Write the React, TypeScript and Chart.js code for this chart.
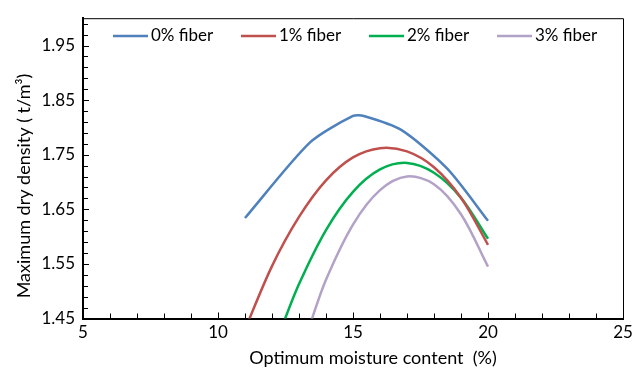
import { useEffect, useRef } from "react";
import { Chart, registerables } from "chart.js";

Chart.register(...registerables);

const FONT = "Lato, 'DejaVu Sans', sans-serif";

const seriesNames = ["0% fiber", "1% fiber", "2% fiber", "3% fiber"];
const seriesColors = ["#4F81BD", "#C0504D", "#00B050", "#B3A2C7"];

// Compaction curves: optimum moisture content (%) vs maximum dry density (t/m³)
const fiber0Moisture = [11, 13.4, 15, 15.4, 16.8, 18.5, 20];
const fiber0Density = [1.634, 1.772, 1.821, 1.821, 1.795, 1.724, 1.629];

const fiber1Moisture = [11, 12, 13, 14, 15, 16, 17, 18, 19, 20];
const fiber1Density = [1.43, 1.546, 1.636, 1.703, 1.745, 1.762, 1.756, 1.727, 1.671, 1.585];

const fiber2Moisture = [12.3, 13, 14, 15, 16, 17, 18, 19, 20];
const fiber2Density = [1.426, 1.513, 1.612, 1.682, 1.723, 1.735, 1.717, 1.671, 1.596];

const fiber3Moisture = [13.4, 14, 15, 16, 17, 18, 19, 20];
const fiber3Density = [1.438, 1.521, 1.622, 1.685, 1.71, 1.696, 1.641, 1.545];

const seriesTension = [0.25, 0.33, 0.33, 0.33];

const xTickValues = [5, 6, 7, 8, 9, 10, 11, 12, 13, 14, 15, 16, 17, 18, 19, 20, 21, 22, 23, 24, 25];
const xLabelValues = [5, 10, 15, 20, 25];

const yTickValues = [
  1.45, 1.47, 1.49, 1.51, 1.53, 1.55, 1.57, 1.59, 1.61, 1.63, 1.65, 1.67, 1.69, 1.71,
  1.73, 1.75, 1.77, 1.79, 1.81, 1.83, 1.85, 1.87, 1.89, 1.91, 1.93, 1.95, 1.97, 1.99,
];
const yLabelValues = [1.45, 1.55, 1.65, 1.75, 1.85, 1.95];

const xTitle = "Optimum moisture content  (%)";
const yTitle = "Maximum dry density ( t/m³)";

const moistureSets = [fiber0Moisture, fiber1Moisture, fiber2Moisture, fiber3Moisture];
const densitySets = [fiber0Density, fiber1Density, fiber2Density, fiber3Density];

const isLabel = (list: number[], v: number) => list.some((l) => Math.abs(l - v) < 1e-6);

// Frame, inward tick marks, legend inside the plot and axis titles
const decorations = {
  id: "decorations",
  afterDraw(chart: any) {
    const { ctx, chartArea, scales } = chart;
    const { left, right, top, bottom } = chartArea;
    ctx.save();

    ctx.strokeStyle = "#000";
    ctx.lineWidth = 1;
    ctx.beginPath();
    ctx.moveTo(left, top + 0.5);
    ctx.lineTo(right + 0.5, top + 0.5);
    ctx.lineTo(right + 0.5, bottom);
    ctx.stroke();

    ctx.beginPath();
    for (const v of yTickValues) {
      const py = Math.round(scales.y.getPixelForValue(v)) + 0.5;
      const len = isLabel(yLabelValues, v) ? 6 : 5;
      ctx.moveTo(left, py);
      ctx.lineTo(left + len, py);
    }
    for (const v of xTickValues) {
      const px = Math.round(scales.x.getPixelForValue(v)) + 0.5;
      const len = isLabel(xLabelValues, v) ? 6 : 5;
      ctx.moveTo(px, bottom);
      ctx.lineTo(px, bottom - len);
    }
    ctx.stroke();

    ctx.font = `17px ${FONT}`;
    ctx.textBaseline = "middle";
    ctx.textAlign = "left";
    chart.data.datasets.forEach((ds: any, i: number) => {
      const lx = 113 + i * 128;
      const ly = 36;
      ctx.strokeStyle = ds.borderColor;
      ctx.lineWidth = 2.5;
      ctx.beginPath();
      ctx.moveTo(lx, ly);
      ctx.lineTo(lx + 35, ly);
      ctx.stroke();
      ctx.fillStyle = "#000";
      ctx.fillText(ds.label, lx + 38, ly);
    });

    ctx.font = `18px ${FONT}`;
    ctx.textAlign = "center";
    ctx.fillText(xTitle, 373, 358);

    ctx.translate(24, 186);
    ctx.rotate(-Math.PI / 2);
    ctx.fillText(yTitle, 0, 0);

    ctx.restore();
  },
};

export default function App() {
  const canvasRef = useRef<HTMLCanvasElement | null>(null);

  useEffect(() => {
    if (!canvasRef.current) return;
    const chart = new Chart(canvasRef.current, {
      type: "line",
      data: {
        datasets: seriesNames.map((name, i) => ({
          label: name,
          data: moistureSets[i].map((x, j) => ({ x, y: densitySets[i][j] })),
          borderColor: seriesColors[i],
          backgroundColor: seriesColors[i],
          borderWidth: 2.5,
          pointRadius: 0,
          tension: seriesTension[i],
          fill: false,
        })),
      },
      options: {
        responsive: false,
        animation: false,
        layout: { padding: { top: 11, right: 21, left: 0, bottom: 0 } },
        plugins: {
          legend: { display: false },
          tooltip: { enabled: false },
        },
        scales: {
          x: {
            type: "linear",
            min: 5,
            max: 25,
            afterBuildTicks: (s: any) => {
              s.ticks = xTickValues.map((value) => ({ value }));
            },
            afterFit: (s: any) => {
              s.height = 53.5;
            },
            ticks: {
              autoSkip: false,
              maxRotation: 0,
              padding: 4,
              color: "#000",
              font: { family: FONT, size: 17 },
              callback: (v: any) => (isLabel(xLabelValues, Number(v)) ? String(v) : ""),
            },
            grid: { display: false, drawTicks: false },
            border: { display: true, color: "#000", width: 2 },
          },
          y: {
            type: "linear",
            min: 1.45,
            max: 2.0,
            afterBuildTicks: (s: any) => {
              s.ticks = yTickValues.map((value) => ({ value }));
            },
            afterFit: (s: any) => {
              s.width = 83;
            },
            ticks: {
              autoSkip: false,
              padding: 8,
              color: "#000",
              font: { family: FONT, size: 17 },
              callback: (v: any) => (isLabel(yLabelValues, Number(v)) ? Number(v).toFixed(2) : ""),
            },
            grid: { display: false, drawTicks: false },
            border: { display: true, color: "#000", width: 2 },
          },
        },
      },
      plugins: [decorations],
    });
    return () => chart.destroy();
  }, []);

  return (
    <div style={{ position: "fixed", left: 0, top: 0, width: 644, height: 372, background: "#fff" }}>
      <canvas ref={canvasRef} width={644} height={372} />
    </div>
  );
}
